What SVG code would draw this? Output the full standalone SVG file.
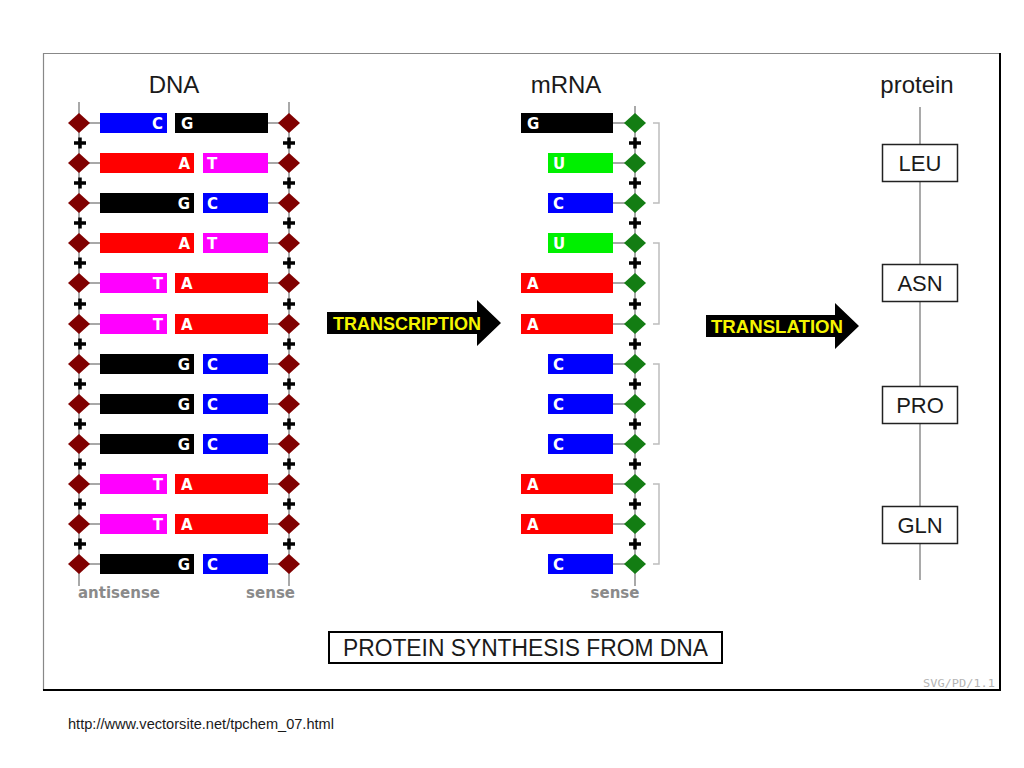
<svg xmlns="http://www.w3.org/2000/svg" xmlns:xlink="http://www.w3.org/1999/xlink" width="1024" height="768" viewBox="0 0 1024 768">
<style>
.t{font-family:"Liberation Sans",Arial,sans-serif;fill:#1a1a1a}
.h{font-size:22px}
.hh{font-size:24px}
.b{font-family:"DejaVu Sans","Liberation Sans",sans-serif;font-weight:bold;font-size:15px;fill:#fff}
.g{font-family:"DejaVu Sans","Liberation Sans",sans-serif;font-weight:bold;font-size:15px;fill:#8a8a8a}
.ln{stroke:#8c8c8c;stroke-width:1.5;fill:none}
.br{stroke:#bdbdbd;stroke-width:1.5;fill:none}
.ar{font-family:"Liberation Sans",Arial,sans-serif;font-weight:bold;font-size:18px;fill:#f5f500}
.C{fill:#0000ff}.G{fill:#000}.A{fill:#ff0000}.T{fill:#ff00ff}.U{fill:#00f000}
</style>
<defs>
<polygon id="dm" points="0,-10 11,0 0,10 -11,0"/>
<path id="pl" d="M-6,0H6M0,-5.5V5.5" stroke="#000" stroke-width="3.5" fill="none"/>
</defs>
<rect width="1024" height="768" fill="#fff"/>
<g id="frame">
<path d="M43.5,690V53.5H1000" stroke="#888" stroke-width="1.2" fill="none"/>
<path d="M1000,53V690H43" stroke="#000" stroke-width="2" fill="none"/>
</g>
<g id="titles">
<text class="t hh" x="174" y="93" text-anchor="middle">DNA</text>
<text class="t hh" x="566" y="93" text-anchor="middle">mRNA</text>
<text class="t hh" x="917" y="93" text-anchor="middle">protein</text>
</g>
<g id="connectors">
<line class="ln" x1="79" y1="102" x2="79" y2="586"/>
<line class="ln" x1="289" y1="102" x2="289" y2="586"/>
<line class="ln" x1="635" y1="106" x2="635" y2="586"/>
<line class="ln" x1="920" y1="107" x2="920" y2="580"/>
<path class="br" d="M653,123H659V203H653"/>
<path class="br" d="M653,243H659V324H653"/>
<path class="br" d="M653,364H659V444H653"/>
<path class="br" d="M653,484H659V564H653"/>
<g class="ln">
<path d="M79,123H100M79,163H100M79,203H100M79,243H100M79,283H100M79,324H100M79,364H100M79,404H100M79,444H100M79,484H100M79,524H100M79,564H100"/>
<path d="M268,123H289M268,163H289M268,203H289M268,243H289M268,283H289M268,324H289M268,364H289M268,404H289M268,444H289M268,484H289M268,524H289M268,564H289"/>
<path d="M613,123H635M613,163H635M613,203H635M613,243H635M613,283H635M613,324H635M613,364H635M613,404H635M613,444H635M613,484H635M613,524H635M613,564H635"/>
</g>
</g>
<g id="backbone-plus">
<g fill="#800000">
<use xlink:href="#dm" x="79" y="123"/><use xlink:href="#dm" x="79" y="163"/><use xlink:href="#dm" x="79" y="203"/><use xlink:href="#dm" x="79" y="243"/><use xlink:href="#dm" x="79" y="283"/><use xlink:href="#dm" x="79" y="324"/><use xlink:href="#dm" x="79" y="364"/><use xlink:href="#dm" x="79" y="404"/><use xlink:href="#dm" x="79" y="444"/><use xlink:href="#dm" x="79" y="484"/><use xlink:href="#dm" x="79" y="524"/><use xlink:href="#dm" x="79" y="564"/>
<use xlink:href="#dm" x="289" y="123"/><use xlink:href="#dm" x="289" y="163"/><use xlink:href="#dm" x="289" y="203"/><use xlink:href="#dm" x="289" y="243"/><use xlink:href="#dm" x="289" y="283"/><use xlink:href="#dm" x="289" y="324"/><use xlink:href="#dm" x="289" y="364"/><use xlink:href="#dm" x="289" y="404"/><use xlink:href="#dm" x="289" y="444"/><use xlink:href="#dm" x="289" y="484"/><use xlink:href="#dm" x="289" y="524"/><use xlink:href="#dm" x="289" y="564"/>
</g>
<g fill="#137d13">
<use xlink:href="#dm" x="635" y="123"/><use xlink:href="#dm" x="635" y="163"/><use xlink:href="#dm" x="635" y="203"/><use xlink:href="#dm" x="635" y="243"/><use xlink:href="#dm" x="635" y="283"/><use xlink:href="#dm" x="635" y="324"/><use xlink:href="#dm" x="635" y="364"/><use xlink:href="#dm" x="635" y="404"/><use xlink:href="#dm" x="635" y="444"/><use xlink:href="#dm" x="635" y="484"/><use xlink:href="#dm" x="635" y="524"/><use xlink:href="#dm" x="635" y="564"/>
</g>
<use xlink:href="#pl" x="80" y="143"/><use xlink:href="#pl" x="80" y="183"/><use xlink:href="#pl" x="80" y="223"/><use xlink:href="#pl" x="80" y="263"/><use xlink:href="#pl" x="80" y="304"/><use xlink:href="#pl" x="80" y="344"/><use xlink:href="#pl" x="80" y="384"/><use xlink:href="#pl" x="80" y="424"/><use xlink:href="#pl" x="80" y="464"/><use xlink:href="#pl" x="80" y="504"/><use xlink:href="#pl" x="80" y="544"/>
<use xlink:href="#pl" x="289" y="143"/><use xlink:href="#pl" x="289" y="183"/><use xlink:href="#pl" x="289" y="223"/><use xlink:href="#pl" x="289" y="263"/><use xlink:href="#pl" x="289" y="304"/><use xlink:href="#pl" x="289" y="344"/><use xlink:href="#pl" x="289" y="384"/><use xlink:href="#pl" x="289" y="424"/><use xlink:href="#pl" x="289" y="464"/><use xlink:href="#pl" x="289" y="504"/><use xlink:href="#pl" x="289" y="544"/>
<use xlink:href="#pl" x="635" y="143"/><use xlink:href="#pl" x="635" y="183"/><use xlink:href="#pl" x="635" y="223"/><use xlink:href="#pl" x="635" y="263"/><use xlink:href="#pl" x="635" y="304"/><use xlink:href="#pl" x="635" y="344"/><use xlink:href="#pl" x="635" y="384"/><use xlink:href="#pl" x="635" y="424"/><use xlink:href="#pl" x="635" y="464"/><use xlink:href="#pl" x="635" y="504"/><use xlink:href="#pl" x="635" y="544"/>
</g>
<g id="dna">
<g id="dna1"><rect class="C" x="100" y="113" width="67" height="20"/><text class="b" x="163" y="129" text-anchor="end">C</text><rect class="G" x="175" y="113" width="93" height="20"/><text class="b" x="181" y="129">G</text></g>
<g id="dna2"><rect class="A" x="100" y="153" width="94" height="20"/><text class="b" x="190" y="169" text-anchor="end">A</text><rect class="T" x="203" y="153" width="65" height="20"/><text class="b" x="207" y="169">T</text></g>
<g id="dna3"><rect class="G" x="100" y="193" width="94" height="20"/><text class="b" x="190" y="209" text-anchor="end">G</text><rect class="C" x="203" y="193" width="65" height="20"/><text class="b" x="207" y="209">C</text></g>
<g id="dna4"><rect class="A" x="100" y="233" width="94" height="20"/><text class="b" x="190" y="249" text-anchor="end">A</text><rect class="T" x="203" y="233" width="65" height="20"/><text class="b" x="207" y="249">T</text></g>
<g id="dna5"><rect class="T" x="100" y="273" width="67" height="20"/><text class="b" x="163" y="289" text-anchor="end">T</text><rect class="A" x="175" y="273" width="93" height="20"/><text class="b" x="181" y="289">A</text></g>
<g id="dna6"><rect class="T" x="100" y="314" width="67" height="20"/><text class="b" x="163" y="330" text-anchor="end">T</text><rect class="A" x="175" y="314" width="93" height="20"/><text class="b" x="181" y="330">A</text></g>
<g id="dna7"><rect class="G" x="100" y="354" width="94" height="20"/><text class="b" x="190" y="370" text-anchor="end">G</text><rect class="C" x="203" y="354" width="65" height="20"/><text class="b" x="207" y="370">C</text></g>
<g id="dna8"><rect class="G" x="100" y="394" width="94" height="20"/><text class="b" x="190" y="410" text-anchor="end">G</text><rect class="C" x="203" y="394" width="65" height="20"/><text class="b" x="207" y="410">C</text></g>
<g id="dna9"><rect class="G" x="100" y="434" width="94" height="20"/><text class="b" x="190" y="450" text-anchor="end">G</text><rect class="C" x="203" y="434" width="65" height="20"/><text class="b" x="207" y="450">C</text></g>
<g id="dna10"><rect class="T" x="100" y="474" width="67" height="20"/><text class="b" x="163" y="490" text-anchor="end">T</text><rect class="A" x="175" y="474" width="93" height="20"/><text class="b" x="181" y="490">A</text></g>
<g id="dna11"><rect class="T" x="100" y="514" width="67" height="20"/><text class="b" x="163" y="530" text-anchor="end">T</text><rect class="A" x="175" y="514" width="93" height="20"/><text class="b" x="181" y="530">A</text></g>
<g id="dna12"><rect class="G" x="100" y="554" width="94" height="20"/><text class="b" x="190" y="570" text-anchor="end">G</text><rect class="C" x="203" y="554" width="65" height="20"/><text class="b" x="207" y="570">C</text></g>
<text class="g" x="78" y="598">antisense</text>
<text class="g" x="295" y="598" text-anchor="end">sense</text>
</g>
<g id="mrna">
<g id="m1"><rect class="G" x="521" y="113" width="92" height="20"/><text class="b" x="527" y="129">G</text></g>
<g id="m2"><rect class="U" x="548" y="153" width="65" height="20"/><text class="b" x="553" y="169">U</text></g>
<g id="m3"><rect class="C" x="548" y="193" width="65" height="20"/><text class="b" x="553" y="209">C</text></g>
<g id="m4"><rect class="U" x="548" y="233" width="65" height="20"/><text class="b" x="553" y="249">U</text></g>
<g id="m5"><rect class="A" x="521" y="273" width="92" height="20"/><text class="b" x="527" y="289">A</text></g>
<g id="m6"><rect class="A" x="521" y="314" width="92" height="20"/><text class="b" x="527" y="330">A</text></g>
<g id="m7"><rect class="C" x="548" y="354" width="65" height="20"/><text class="b" x="553" y="370">C</text></g>
<g id="m8"><rect class="C" x="548" y="394" width="65" height="20"/><text class="b" x="553" y="410">C</text></g>
<g id="m9"><rect class="C" x="548" y="434" width="65" height="20"/><text class="b" x="553" y="450">C</text></g>
<g id="m10"><rect class="A" x="521" y="474" width="92" height="20"/><text class="b" x="527" y="490">A</text></g>
<g id="m11"><rect class="A" x="521" y="514" width="92" height="20"/><text class="b" x="527" y="530">A</text></g>
<g id="m12"><rect class="C" x="548" y="554" width="65" height="20"/><text class="b" x="553" y="570">C</text></g>
<text class="g" x="615" y="598" text-anchor="middle">sense</text>
</g>
<g id="arrow-transcription">
<polygon points="327,312 477,312 477,300 501,323 477,346 477,334 327,334" fill="#000"/>
<text class="ar" x="333" y="330" textLength="148" lengthAdjust="spacingAndGlyphs">TRANSCRIPTION</text>
</g>
<g id="arrow-translation">
<polygon points="706,315 835,315 835,303 859,326 835,349 835,337 706,337" fill="#000"/>
<text class="ar" x="711" y="333" textLength="132" lengthAdjust="spacingAndGlyphs">TRANSLATION</text>
</g>
<g id="protein" fill="#fff" stroke="#222" stroke-width="1.5">
<g id="leu"><rect x="882.5" y="144.5" width="75" height="37"/><text class="t h" x="920" y="171" text-anchor="middle" stroke="none">LEU</text></g>
<g id="asn"><rect x="882.5" y="264.5" width="75" height="37"/><text class="t h" x="920" y="291" text-anchor="middle" stroke="none">ASN</text></g>
<g id="pro"><rect x="882.5" y="386.5" width="75" height="37"/><text class="t h" x="920" y="413" text-anchor="middle" stroke="none">PRO</text></g>
<g id="gln"><rect x="882.5" y="506.5" width="75" height="37"/><text class="t h" x="920" y="533" text-anchor="middle" stroke="none">GLN</text></g>
</g>
<g id="title">
<rect x="329" y="632" width="393" height="31" fill="#fff" stroke="#000" stroke-width="2"/>
<text class="t" x="525.5" y="656" text-anchor="middle" font-size="23" textLength="365" lengthAdjust="spacingAndGlyphs">PROTEIN SYNTHESIS FROM DNA</text>
</g>
<text x="995" y="687" text-anchor="end" font-family="'DejaVu Sans Mono',monospace" font-size="10" fill="#b5b5b5" textLength="72" lengthAdjust="spacingAndGlyphs">SVG/PD/1.1</text>
<text class="t" x="68" y="729" font-size="14" fill="#000" textLength="266" lengthAdjust="spacingAndGlyphs">http://www.vectorsite.net/tpchem_07.html</text>
</svg>
